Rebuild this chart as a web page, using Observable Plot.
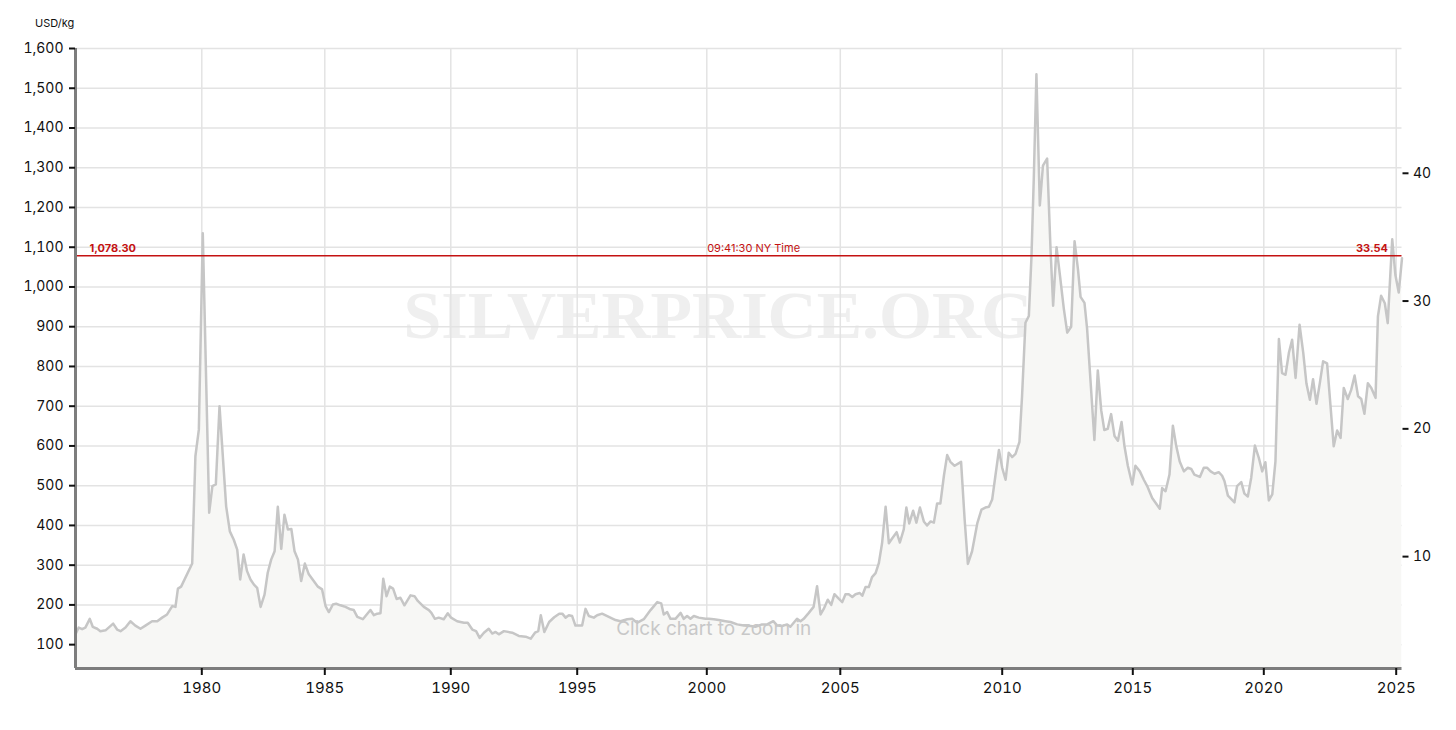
<!DOCTYPE html>
<html><head><meta charset="utf-8">
<script src="https://cdn.jsdelivr.net/npm/d3@7"></script>
<script src="https://cdn.jsdelivr.net/npm/@observablehq/plot@0.6"></script>
<style>
body{margin:0;background:#fff;font-family:Inter,"Liberation Sans",sans-serif;}
#wrap{position:relative;width:1456px;height:730px;}
#unit{position:absolute;left:35px;top:16px;font-size:11px;color:#111;}
#wrap svg{display:block;}
</style></head><body>
<div id="wrap"><div id="unit">USD/kg</div></div>
<script>
// ---- data (USD per kg) ----
const years = [
1974.87,1975.00,1975.14,1975.27,1975.45,1975.57,1975.75,1975.88,1976.09,1976.40,1976.56,1976.70,1976.90,1977.10,1977.30,1977.51,1977.71,1977.98,1978.19,1978.39,1978.59,1978.80,1978.93,1979.03,1979.16,1979.61,1979.74,1979.88,1980.04,1980.30,1980.43,1980.57,1980.72,1980.99,1981.14,1981.30,1981.44,1981.56,1981.70,1981.84,1981.98,1982.12,1982.25,1982.39,1982.55,1982.68,1982.82,1982.96,1983.09,1983.23,1983.36,1983.50,1983.64,1983.77,1983.91,1984.04,1984.19,1984.35,1984.55,1984.72,1984.89,1985.03,1985.16,1985.32,1985.45,1985.62,1985.82,1986.02,1986.15,1986.29,
1986.51,1986.81,1986.95,1987.08,1987.21,1987.32,1987.45,1987.58,1987.71,1987.85,1988.00,1988.16,1988.40,1988.56,1988.69,1988.93,1989.13,1989.23,1989.37,1989.52,1989.72,1989.88,1990.01,1990.25,1990.52,1990.67,1990.85,1991.00,1991.14,1991.31,1991.50,1991.64,1991.77,1991.90,1992.10,1992.43,1992.69,1992.96,1993.16,1993.33,1993.46,1993.56,1993.70,1993.89,1994.09,1994.29,1994.41,1994.54,1994.67,1994.80,1994.93,1995.19,1995.32,1995.45,1995.64,1995.77,1995.96,1996.22,1996.48,1996.67,1996.93,1997.12,1997.31,1997.57,1997.83,1998.09,1998.24,1998.34,1998.47,1998.60,1998.79,1998.99,1999.11,1999.24,1999.37,1999.50,1999.69,1999.95,2000.08,2000.26,2000.45,2000.70,2000.89,2001.14,2001.39,2001.64,2001.82,2002.07,2002.26,2002.49,2002.64,2002.82,2003.01,2003.13,2003.38,2003.51,2003.63,2003.82,2004.00,2004.13,2004.26,
2004.38,2004.53,2004.66,2004.78,2004.95,2005.06,2005.16,2005.26,2005.37,2005.47,2005.60,2005.68,2005.78,2005.88,2005.98,2006.09,2006.19,2006.29,2006.40,2006.50,2006.60,2006.74,2006.84,2006.96,2007.04,2007.13,2007.25,2007.35,2007.46,2007.58,2007.68,2007.79,2007.89,2007.99,2008.09,2008.20,2008.30,2008.40,2008.53,2008.73,2008.84,2008.94,2009.07,2009.23,2009.36,2009.48,2009.59,2009.69,2009.79,2009.90,2010.00,2010.13,2010.25,2010.38,2010.51,2010.66,2010.76,2010.89,2011.02,2011.12,2011.21,2011.31,2011.44,2011.56,2011.72,2011.85,2011.95,2012.08,2012.21,2012.36,2012.49,2012.64,2012.77,2012.90,2013.00,2013.15,2013.25,2013.38,2013.53,2013.66,2013.79,2013.91,2014.04,2014.17,2014.30,2014.43,2014.57,2014.68,2014.81,2014.98,2015.10,
2015.27,2015.42,2015.55,2015.74,2016.03,2016.12,2016.25,2016.40,2016.53,2016.66,2016.79,2016.95,2017.10,2017.23,2017.35,2017.56,2017.71,2017.84,2017.97,2018.12,2018.28,2018.41,2018.50,2018.63,2018.88,2018.98,2019.14,2019.26,2019.39,2019.52,2019.66,2019.81,2019.94,2020.06,2020.19,2020.32,2020.44,2020.57,2020.69,2020.82,2020.95,2021.07,2021.20,2021.35,2021.49,2021.61,2021.74,2021.86,2021.99,2022.12,2022.24,2022.39,2022.52,2022.64,2022.77,2022.90,2023.02,2023.17,2023.30,2023.43,2023.56,2023.68,2023.80,2023.93,2024.06,2024.22,2024.31,2024.43,2024.57,2024.68,2024.85,2024.97,2025.10,2025.23
];
const prices = [
126,143,139,143,165,145,140,134,136,153,138,134,143,159,148,140,148,159,159,168,176,197,195,241,246,304,574,641,1135,432,499,503,700,448,385,364,339,264,327,285,264,251,243,195,226,281,314,335,447,341,427,390,391,335,314,260,304,277,260,246,239,197,182,201,203,199,195,189,187,170,
164,187,174,178,179,266,222,246,241,215,218,199,224,222,210,195,187,180,165,168,164,179,168,159,155,155,138,134,117,130,140,128,132,126,134,130,122,120,115,130,134,174,132,157,169,178,178,168,174,172,148,148,190,172,168,174,178,170,162,159,164,165,155,164,187,207,204,176,182,165,165,180,165,172,165,172,168,165,165,164,162,159,157,151,148,147,145,151,151,159,148,147,151,145,165,159,165,180,195,247,176,
190,213,200,227,215,207,227,227,220,227,230,223,245,245,270,280,305,355,447,355,367,383,357,390,445,405,437,407,445,410,400,410,407,455,455,525,577,560,550,560,415,303,335,405,440,445,447,465,525,590,545,515,583,572,580,610,725,910,927,1075,1275,1535,1205,1305,1323,1095,953,1100,1030,945,885,900,1115,1045,975,960,895,765,615,790,690,640,643,680,625,613,660,600,550,503,550,
536,515,499,469,442,494,486,528,651,599,561,536,545,542,528,522,545,545,536,530,534,525,511,475,458,499,509,480,473,520,601,570,536,559,463,478,561,869,783,779,835,867,771,905,834,757,716,768,706,760,813,808,700,599,639,620,746,718,741,777,725,718,681,758,746,721,926,978,959,909,1120,1030,986,1072
];
const yearTicks = [1980, 1985, 1990, 1995, 2000, 2005, 2010, 2015, 2020, 2025];
const kgTicks = [100, 200, 300, 400, 500, 600, 700, 800, 900, 1000, 1100, 1200, 1300, 1400, 1500, 1600];
const ozTicks = [10, 20, 30, 40];
const OZ_PER_KG = 32.1507;
const currentKg = 1078.30;
const currentOz = 33.54;
const timeLabel = "09:41:30 NY Time";
const watermark = "SILVERPRICE.ORG";
const hint = "Click chart to zoom in";

const data = years.map((year, i) => ({year, price: prices[i]}));
const x0 = d3.min(years), x1 = d3.max(years);
const red = "#c41212";

const chart = Plot.plot({
  width: 1456,
  height: 730,
  marginTop: 48,
  marginBottom: 62,
  marginLeft: 75,
  marginRight: 54.5,
  style: {fontFamily: "Inter, 'Liberation Sans', sans-serif", fontSize: "14px", color: "#111", background: "#fff"},
  x: {type: "linear", domain: [x0, ...yearTicks, x1],
      range: [75, 201.3, 324.3, 450.3, 576.7, 706.3, 839.8, 1001.7, 1132.3, 1263.3, 1395.7, 1401.5], label: null},
  y: {domain: [40, 1600], label: null},
  marks: [
    Plot.text([watermark], {frameAnchor: "middle", text: d => d, dx: -20, dy: -42,
      fontFamily: "'Liberation Serif', 'DejaVu Serif', serif", fontWeight: "bold", fontSize: 68, fill: "#efefef"}),
    Plot.gridY(kgTicks, {stroke: "#e3e3e3", strokeOpacity: 1, strokeWidth: 1.5}),
    Plot.gridX(yearTicks, {stroke: "#e3e3e3", strokeOpacity: 1, strokeWidth: 1.5}),
    Plot.areaY(data, {x: "year", y: "price", fill: "#f7f7f5", clip: true}),
    Plot.lineY(data, {x: "year", y: "price", stroke: "#c6c6c6", strokeWidth: 2.5}),
    Plot.text([hint], {frameAnchor: "bottom", text: d => d, dx: -25, dy: -34, lineAnchor: "bottom",
      fontSize: 19, fill: "#c8c8c8"}),
    Plot.ruleY([currentKg], {stroke: red, strokeWidth: 1.5}),
    Plot.text([currentKg], {x: x0, y: d => d, text: d => d3.format(",.2f")(d), textAnchor: "start", lineAnchor: "bottom",
      dx: 14, dy: -4, fontSize: 11, fontWeight: "bold", fill: red}),
    Plot.text([currentKg], {x: (x0 + x1) / 2, y: d => d, text: () => timeLabel, textAnchor: "start", lineAnchor: "bottom",
      dx: -1, dy: -4, fontSize: 11, fill: red}),
    Plot.text([currentKg], {x: x1, y: d => d, text: () => currentOz.toFixed(2), textAnchor: "end", lineAnchor: "bottom",
      dx: -14, dy: -4, fontSize: 11, fontWeight: "bold", fill: red}),
    Plot.ruleX([x0], {stroke: "#7d7d7d", strokeWidth: 3}),
    Plot.ruleY([40], {stroke: "#7d7d7d", strokeWidth: 3}),
    Plot.axisY({ticks: kgTicks, tickFormat: d3.format(","), tickSize: 6, tickPadding: 6, strokeWidth: 2, fontSize: 14, label: null}),
    Plot.axisY({anchor: "right", ticks: ozTicks.map(v => v * OZ_PER_KG), tickFormat: d => Math.round(d / OZ_PER_KG),
      tickSize: 6, tickPadding: 5, strokeWidth: 2, fontSize: 14, label: null}),
    Plot.axisX({ticks: yearTicks, tickFormat: d => String(d), tickSize: 7, tickPadding: 7, strokeWidth: 2, fontSize: 15, label: null})
  ]
});
document.getElementById("wrap").prepend(chart);
</script>
</body></html>
